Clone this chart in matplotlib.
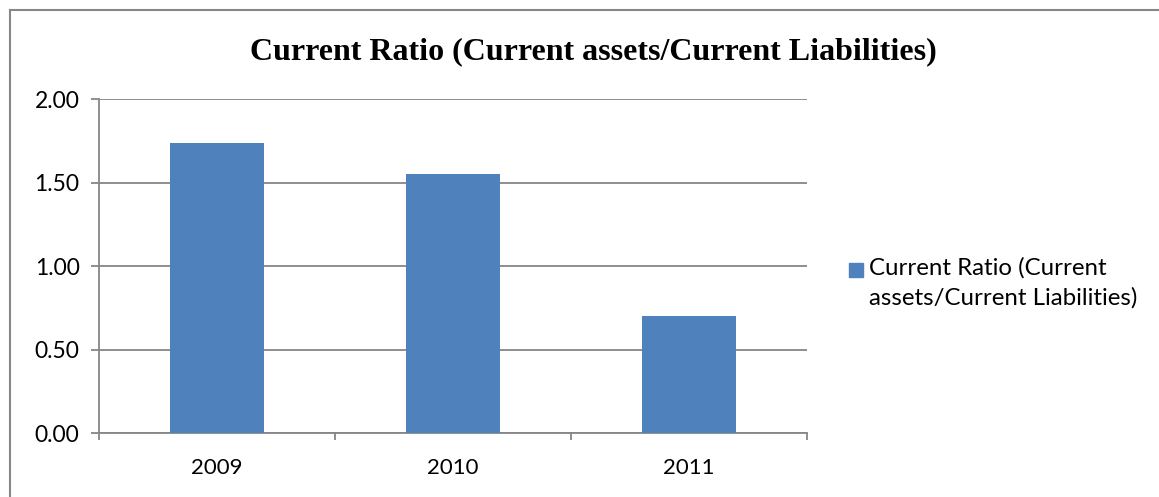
## Current ratio bar chart
# plot.py
import matplotlib
matplotlib.use("Agg")
import matplotlib.pyplot as plt
from matplotlib.patches import Rectangle
from matplotlib.lines import Line2D

years = ["2009", "2010", "2011"]
current_ratio = [1.74, 1.555, 0.70]
y_ticks = [0.0, 0.5, 1.0, 1.5, 2.0]
title = "Current Ratio (Current assets/Current Liabilities)"
series_label = "Current Ratio (Current\nassets/Current Liabilities)"

bar_color = "#4F81BD"
grey = "#868686"

fig = plt.figure(figsize=(11.59, 4.97), dpi=100)
ax = fig.add_axes([0.0854, 0.1282, 0.6106, 0.672])

x = list(range(len(years)))
ax.bar(x, current_ratio, width=0.4, color=bar_color, zorder=3)

ax.set_xlim(-0.5, len(years) - 0.5)
ax.set_ylim(0, 2.0)
ax.set_yticks(y_ticks)
ax.set_yticklabels(["%.2f" % v for v in y_ticks], fontsize=16.5, family="Lato")
ax.yaxis.grid(True, color=grey, linewidth=1.3, zorder=0)
ax.set_xticks(x)
ax.set_xticklabels(years, fontsize=16, family="Lato")
ax.set_xticks([i - 0.5 for i in range(len(years) + 1)], minor=True)
ax.tick_params(axis="x", which="major", length=0, pad=18)
ax.tick_params(axis="x", which="minor", length=5, width=1.3, color=grey, direction="out")
ax.tick_params(axis="y", length=6, width=1.3, color=grey, pad=8)

for s in ["top", "right"]:
    ax.spines[s].set_visible(False)
for s in ["left", "bottom"]:
    ax.spines[s].set_color(grey)
    ax.spines[s].set_linewidth(1.3)

fig.text(0.512, 0.896, title, ha="center", va="center", fontsize=23,
         family="Liberation Serif", weight="bold")

## Legend drawn by hand so the square sits on the first line
fig.add_artist(Rectangle((849 / 1159.0, 1 - 277 / 497.0), 14 / 1159.0, 14 / 497.0,
                         transform=fig.transFigure, color=bar_color))
fig.text(869 / 1159.0, 1 - 257 / 497.0, series_label, ha="left", va="top",
         fontsize=17.3, family="Lato", linespacing=1.5)

## Outer chart frame: only left and top edges fall inside the image
fy = 1 - 10 / 497.0
fx = 10 / 1159.0
fig.add_artist(Line2D([fx, fx], [0, fy], transform=fig.transFigure,
                      color="#878787", linewidth=1.5))
fig.add_artist(Line2D([fx, 1], [fy, fy], transform=fig.transFigure,
                      color="#878787", linewidth=1.5))

fig.savefig("out.png", dpi=100)
